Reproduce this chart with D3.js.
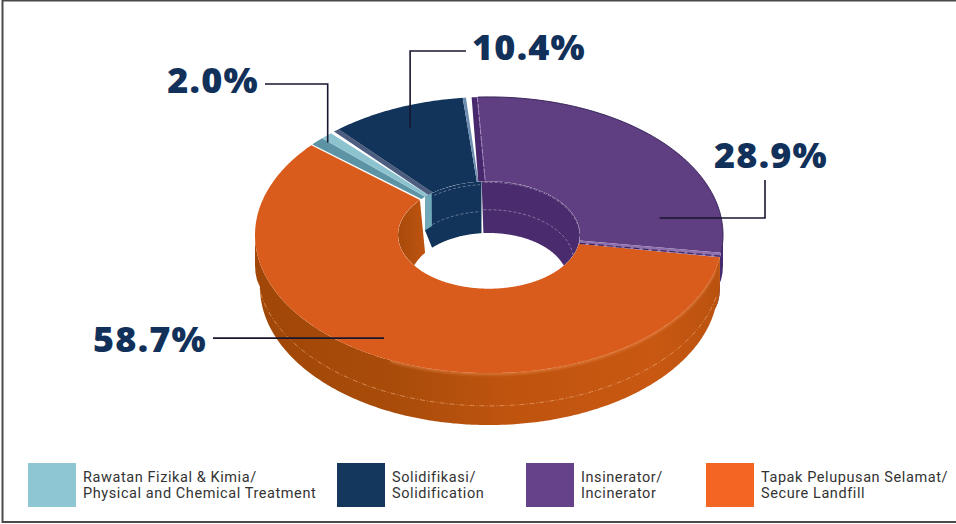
<!DOCTYPE html>
<html>
<head>
<meta charset="utf-8">
<script src="https://cdn.jsdelivr.net/npm/d3@7/dist/d3.min.js"></script>
<style>
  html, body { margin: 0; padding: 0; background: #fff; }
  svg { display: block; }
</style>
</head>
<body>
<svg id="chart" width="956" height="524"></svg>
<script>
// Waste treatment shares, in legend order.
const categories = ["Rawatan Fizikal & Kimia", "Solidifikasi", "Insinerator", "Tapak Pelupusan Selamat"];
const shares = [2.0, 10.4, 28.9, 58.7];
const valueLabels = ["2.0%", "10.4%", "28.9%", "58.7%"];
const legendLines = [
  ["Rawatan Fizikal & Kimia/", "Physical and Chemical Treatment"],
  ["Solidifikasi/", "Solidification"],
  ["Insinerator/", "Incinerator"],
  ["Tapak Pelupusan Selamat/", "Secure Landfill"]
];
const topColors = ["#8cc3cf", "#12335a", "#5f3e82", "#da5c1c"];
const swatchColors = ["#8fc6d4", "#14375e", "#654289", "#f26522"];

const svg = d3.select("#chart");
const defs = svg.append("defs");

// Ring geometry of the tilted donut.
const cx = 489, cy = 235, tilt = 0.59;
const outerR = 234, innerR = 91;
const floorRx = 79, floorRy = 48, floorCy = 281;
const rad = Math.PI / 180;

const startDeg = 310.6;
const slices = d3.pie().sort(null)
  .startAngle(startDeg * rad)
  .endAngle((startDeg + 360) * rad)(shares)
  .map(d => ({ ...d, a0: d.startAngle / rad, a1: d.endAngle / rad, mid: (d.startAngle + d.endAngle) / 2 / rad }));
const [blue, navy, purple, orange] = slices;
// Bearings folded back to one turn for the slices that cross the top of the ring.
const purpleStart = purple.a0 - 360, purpleEnd = purple.a1 - 360;
const orangeStart = orange.a0 - 360, orangeEnd = orange.a1 - 360;

const rim = (r, deg, z = 0) => [
  cx + r * Math.sin(deg * rad),
  cy - r * tilt * Math.cos(deg * rad) + z
];
const floorPt = deg => [
  cx + floorRx * Math.sin(deg * rad),
  floorCy - floorRy * Math.cos(deg * rad)
];
// Point part-way down the inner wall, from a rim bearing to a floor bearing.
const wallPt = (t, f, k) => {
  const p = rim(innerR, t), q = floorPt(f);
  return [p[0] + (q[0] - p[0]) * k, p[1] + (q[1] - p[1]) * k];
};
const sweep = (a, b) => {
  const n = Math.max(2, Math.ceil(Math.abs(b - a) * 1.5));
  return d3.range(n + 1).map(i => a + (b - a) * i / n);
};
const line = d3.line();
const closed = pts => line(pts) + "Z";

// Section of the top face between two edges; each edge has an outer and inner bearing.
const facePath = (o0, i0, o1, i1) => closed([
  ...sweep(o0, o1).map(a => rim(outerR, a)),
  ...sweep(i1, i0).map(a => rim(innerR, a))
]);

// Front wall profile: straight at first, then rounding under towards the base.
const profile = [[234, 0], [234, 30], [233.5, 38], [232, 45], [229, 52]];
const profilePt = (p, deg) => [
  cx + p[0] * Math.sin(deg * rad),
  cy + p[1] - outerR * tilt * Math.cos(deg * rad)
];
const outerWall = (a, b) => d3.pairs(profile).map(([p, q]) => closed([
  ...sweep(a, b).map(d => profilePt(p, d)),
  ...sweep(b, a).map(d => profilePt(q, d))
])).join("");

const innerWall = (t0, t1, f0, f1) => closed([
  ...sweep(t0, t1).map(a => rim(innerR, a)),
  ...sweep(f1, f0).map(floorPt)
]);
const wallSeam = (t0, t1, f0, f1, k) => line(d3.range(41).map(i => {
  const u = i / 40;
  return wallPt(t0 + (t1 - t0) * u, f0 + (f1 - f0) * u, k);
}));

// Shading for the front wall and the inner landfill wall.
const sideGrad = defs.append("linearGradient").attr("id", "sideGrad")
  .attr("gradientUnits", "userSpaceOnUse")
  .attr("x1", cx - outerR).attr("x2", cx + outerR).attr("y1", 0).attr("y2", 0);
[[0, "#a04707"], [0.3, "#a94c0a"], [0.55, "#bf540f"], [0.85, "#c85812"], [1, "#b9520f"]]
  .forEach(([o, c]) => sideGrad.append("stop").attr("offset", o).attr("stop-color", c));
const holeGrad = defs.append("linearGradient").attr("id", "holeGrad")
  .attr("x1", 0).attr("x2", 1).attr("y1", 0).attr("y2", 0);
[[0, "#a84a0a"], [1, "#c05410"]]
  .forEach(([o, c]) => holeGrad.append("stop").attr("offset", o).attr("stop-color", c));
defs.append("clipPath").attr("id", "holeClip").append("ellipse")
  .attr("cx", cx).attr("cy", cy).attr("rx", innerR).attr("ry", innerR * tilt);
defs.append("filter").attr("id", "soft").append("feGaussianBlur").attr("stdDeviation", 1.6);

// Outer frame, open on the right.
svg.append("path").attr("d", "M956,0.5H2.5V522H956")
  .attr("fill", "none").attr("stroke", "#4a4a4a").attr("stroke-width", 2);

const donut = svg.append("g");

// Front outer walls.
donut.append("path").attr("d", outerWall(90, purpleEnd)).attr("fill", "#452a70");
donut.append("path").attr("d", outerWall(orangeStart, 270)).attr("fill", "url(#sideGrad)");

// Faint seam and rim light on the front wall.
donut.append("path")
  .attr("d", line(sweep(102, 262).map(d => rim(outerR - 2, d, 34))))
  .attr("fill", "none").attr("stroke", "#f4b98c").attr("stroke-width", 0.8)
  .attr("stroke-dasharray", "5 2 1 2").attr("opacity", 0.7);
donut.append("path")
  .attr("d", line(sweep(104, 205).map(d => rim(outerR - 1, d, 1))))
  .attr("fill", "none").attr("stroke", "#f0935a").attr("stroke-width", 2.2)
  .attr("filter", "url(#soft)").attr("opacity", 0.8);

// Top faces and the bevel strips along their edges.
const faces = [
  { d: facePath(orange.a0, orange.a0, orange.a1, orange.a1), fill: topColors[3] },
  { d: facePath(blue.a0 + 0.4, blue.a0 + 1.4, blue.a0 + 3.9, blue.a0 + 4.9), fill: "#5c94a6" },
  { d: facePath(blue.a0 + 3.9, blue.a0 + 4.9, blue.a1 - 0.3, blue.a1 + 0.2), fill: topColors[0] },
  { d: facePath(navy.a0 + 0.7, navy.a0 + 0.4, navy.a0 + 2.2, navy.a0 + 4.2), fill: "#4d5d80" },
  { d: facePath(navy.a0 + 2.2, navy.a0 + 4.2, navy.a1 - 1.7, navy.a1 - 2.9), fill: topColors[1] },
  { d: facePath(navy.a1 - 1.7, navy.a1 - 2.9, navy.a1 - 0.9, navy.a1 - 1.9), fill: "#6d8db0" },
  { d: facePath(purple.a0 + 0.5, purple.a0 - 2, purple.a0 + 1.9, purple.a0 + 2.4), fill: "#47286c" },
  { d: facePath(purple.a0 + 1.9, purple.a0 + 2.4, purple.a1 - 1.9, purple.a1 - 3.4), fill: topColors[2] },
  { d: facePath(purple.a1 - 1.9, purple.a1 - 3.4, purple.a1, purple.a1), fill: "#8f72ad" }
];
donut.selectAll("path.face").data(faces).join("path")
  .attr("class", "face").attr("d", d => d.d).attr("fill", d => d.fill);

// Dark hatching on the purple bevel and light seam on its start edge.
donut.append("path")
  .attr("d", line([rim(outerR, purple.a1 - 0.5), rim(innerR, purple.a1 - 0.5)]))
  .attr("stroke", "#3b2560").attr("stroke-width", 1.2).attr("stroke-dasharray", "6 3").attr("fill", "none");
donut.append("path")
  .attr("d", line([rim(outerR, purple.a0 + 1.9), rim(innerR, purple.a0 + 2.4)]))
  .attr("stroke", "#a88dc4").attr("stroke-width", 1).attr("stroke-dasharray", "5 1.5").attr("fill", "none");
donut.append("path")
  .attr("d", line(sweep(purple.a0 + 2, purple.a1 - 1.9).map(a => rim(outerR, a))))
  .attr("stroke", "#352258").attr("stroke-width", 1).attr("fill", "none");

// Inner walls of the hole, clipped by the top rim.
const hole = donut.append("g").attr("clip-path", "url(#holeClip)");
const tealTopL = blue.a0 + 4.7, tealTopR = navy.a0 + 3.2;
const tealFloorL = blue.a0 - 4.6, tealFloorR = blue.a0 + 3.3, tealDepth = 0.6;
hole.append("path").attr("d", innerWall(230, orangeEnd, 232, orangeEnd - 4.6)).attr("fill", "url(#holeGrad)");
hole.append("path").attr("d", closed([
  ...sweep(tealTopR, navy.a1).map(a => rim(innerR, a)),
  ...sweep(navy.a1 - 0.7, tealFloorR).map(floorPt),
  wallPt(tealTopL, tealFloorL, tealDepth),
  rim(innerR, tealTopL)
])).attr("fill", "#12335a");
hole.append("path").attr("d", closed([
  ...sweep(tealTopL, tealTopR).map(a => rim(innerR, a)),
  wallPt(tealTopR, tealFloorR, tealDepth),
  wallPt(tealTopL, tealFloorL, tealDepth)
])).attr("fill", "#6fa9ba");
hole.append("path").attr("d", innerWall(purpleStart + 0.1, purpleEnd + 16, purpleStart + 0.7, purpleEnd + 16)).attr("fill", "#4a2b6d");

const seamStyle = sel => sel.attr("fill", "none").attr("stroke", "#d7dcec")
  .attr("stroke-width", 0.7).attr("opacity", 0.6).attr("stroke-dasharray", "3 2");
seamStyle(hole.append("path").attr("d", wallSeam(navy.a0 + 5, navy.a1 - 1, navy.a0, navy.a1 - 1.2, 0.06)));
seamStyle(hole.append("path").attr("d", wallSeam(navy.a0 + 3.2, navy.a1 - 1, navy.a0 - 3, navy.a1 - 1.2, 0.58)));
seamStyle(hole.append("path").attr("d", wallSeam(purpleStart + 1, purpleEnd, purpleStart + 1, purpleEnd, 0.55)));
seamStyle(hole.append("path").attr("d", wallSeam(purpleStart + 2, purpleEnd - 2, purpleStart + 2, purpleEnd - 2, 0.02)));

// Value labels with elbowed leader lines that end inside their slices.
const ink = "#12315a";
const callouts = [
  { label: 0, tip: [225, blue.mid], path: t => [[265, 84], [t[0], 84], t], x: 213, y: 93 },
  { label: 1, tip: [198, navy.mid], path: t => [[466, 51], [t[0], 51], t], x: 529, y: 60 },
  { label: 2, tip: [173, 80.4], path: t => [[765, 180], [765, t[1]], t], x: 771, y: 168 },
  { label: 3, tip: [204, 211], path: t => [[213, t[1]], t], x: 150, y: 352 }
];
const labels = svg.append("g");
callouts.forEach(c => {
  const tip = rim(c.tip[0], c.tip[1]);
  labels.append("path").attr("d", line(c.path(tip)))
    .attr("fill", "none").attr("stroke", "#17172f").attr("stroke-width", 1.6);
  labels.append("text").text(valueLabels[c.label])
    .attr("x", c.x).attr("y", c.y).attr("text-anchor", "middle")
    .attr("font-family", "'Open Sans', sans-serif").attr("font-weight", 800)
    .attr("font-size", 36).attr("letter-spacing", 1.2).attr("fill", ink);
});

// Legend.
const legendX = [28, 337, 526, 706];
const legend = svg.append("g").selectAll("g").data(categories).join("g")
  .attr("transform", (d, i) => `translate(${legendX[i]},463)`);
legend.append("rect").attr("width", 48).attr("height", 44)
  .attr("fill", (d, i) => swatchColors[i]);
legend.each(function (d, i) {
  const g = d3.select(this);
  legendLines[i].forEach((txt, j) => {
    g.append("text").text(txt)
      .attr("x", 55).attr("y", 19 + j * 16)
      .attr("font-family", "Roboto, sans-serif").attr("font-size", 14.5)
      .attr("letter-spacing", 0.58).attr("fill", "#333");
  });
});
</script>
</body>
</html>
